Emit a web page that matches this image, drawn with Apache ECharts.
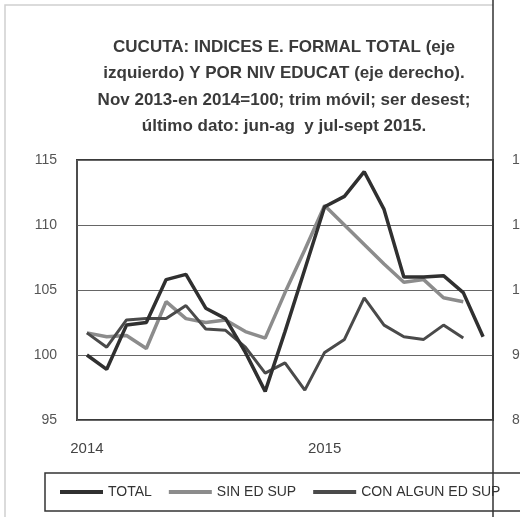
<!DOCTYPE html>
<html><head><meta charset="utf-8">
<script src="https://cdn.jsdelivr.net/npm/echarts@6/dist/echarts.min.js"></script>
<style>html,body{margin:0;padding:0;background:#fff}#c{width:520px;height:517px}</style>
</head><body><div id="c"></div>
<script>
const months = ['2014-01','2014-02','2014-03','2014-04','2014-05','2014-06','2014-07','2014-08','2014-09','2014-10','2014-11','2014-12',
  '2015-01','2015-02','2015-03','2015-04','2015-05','2015-06','2015-07','2015-08','2015-09'];
const total = [100.0, 98.9, 102.3, 102.5, 105.8, 106.2, 103.6, 102.8, 100.2, 97.2, 101.8, 106.6, 111.4, 112.2, 114.1, 111.2, 106.0, 106.0, 106.1, 104.8, 101.4];
const sinEdSup = [93.4, 92.8, 93.0, 91.0, 98.2, 95.6, 95.0, 95.4, 93.6, 92.6, 99.6, 106.2, 113.0, 110.0, 107.0, 104.0, 101.2, 101.6, 98.8, 98.2];
const conAlgunEdSup = [93.4, 91.2, 95.4, 95.6, 95.6, 97.6, 94.0, 93.8, 91.2, 87.2, 88.8, 84.6, 90.4, 92.4, 98.8, 94.6, 92.8, 92.4, 94.6, 92.6];
const leftTicks = {min: 95, max: 115, interval: 5};
const rightTicks = {min: 80, max: 120, interval: 10};
const titleLines = ['CUCUTA: INDICES E. FORMAL TOTAL (eje', 'izquierdo) Y POR NIV EDUCAT (eje derecho).', 'Nov 2013-en 2014=100; trim móvil; ser desest;', 'último dato: jun-ag  y jul-sept 2015.'];
const seriesNames = ['TOTAL', 'SIN ED SUP', 'CON ALGUN ED SUP'];

const chart = echarts.init(document.getElementById('c'));
const font = 'Liberation Sans, Arial, sans-serif';
chart.setOption({
  animation: false,
  backgroundColor: '#fff',
  title: {
    text: titleLines.join('\n'),
    left: 284, top: 34, textAlign: 'center', padding: 0,
    textStyle: {fontFamily: font, fontSize: 17, fontWeight: 'bold', color: '#3a3a3a', lineHeight: 26.5}
  },
  legend: {
    left: 45, top: 473, width: 600, padding: [12, 30, 12, 15], itemGap: 17, itemWidth: 43, itemHeight: 4, icon: 'rect',
    borderColor: '#333', borderWidth: 1.5,
    textStyle: {fontFamily: font, fontSize: 14, color: '#333'},
    data: seriesNames
  },
  grid: {left: 77, right: 27, top: 160, bottom: 97, show: true, borderColor: '#3a3a3a', borderWidth: 2,
    outerBoundsMode: 'none', containLabel: false},
  xAxis: {
    type: 'category', data: months, boundaryGap: true,
    axisLine: {show: false}, axisTick: {show: false},
    axisLabel: {interval: (i) => i === 0 || i === 12, formatter: (v) => v.slice(0, 4), margin: 21,
      fontFamily: font, fontSize: 15, color: '#444'},
    splitLine: {show: true, interval: (i) => i === 12, lineStyle: {color: '#555', width: 1.5}}
  },
  yAxis: [
    {type: 'value', ...leftTicks, position: 'left',
      axisLine: {show: false}, axisTick: {show: false},
      axisLabel: {margin: 20, fontFamily: font, fontSize: 14, color: '#555'},
      splitLine: {lineStyle: {color: '#666', width: 1}}},
    {type: 'value', ...rightTicks, position: 'right',
      axisLine: {show: false}, axisTick: {show: false},
      axisLabel: {margin: 19, fontFamily: font, fontSize: 14, color: '#555'},
      splitLine: {show: false}}
  ],
  series: [
    {name: seriesNames[0], type: 'line', yAxisIndex: 0, data: total, symbol: 'none', z: 4,
      lineStyle: {color: '#303030', width: 3.5}, itemStyle: {color: '#303030'}},
    {name: seriesNames[1], type: 'line', yAxisIndex: 1, data: sinEdSup, symbol: 'none', z: 3,
      lineStyle: {color: '#8c8c8c', width: 3.5}, itemStyle: {color: '#8c8c8c'}},
    {name: seriesNames[2], type: 'line', yAxisIndex: 1, data: conAlgunEdSup, symbol: 'none', z: 3,
      lineStyle: {color: '#4a4a4a', width: 3}, itemStyle: {color: '#4a4a4a'}}
  ],
  graphic: [
    {type: 'polyline', silent: true, shape: {points: [[5, 517], [5, 5], [493, 5]]}, style: {stroke: '#d0d0d0', lineWidth: 1.5, fill: null}},
    {type: 'line', silent: true, shape: {x1: 493, y1: 0, x2: 493, y2: 517}, style: {stroke: '#333', lineWidth: 1.5}, z: 10}
  ]
});
</script></body></html>
